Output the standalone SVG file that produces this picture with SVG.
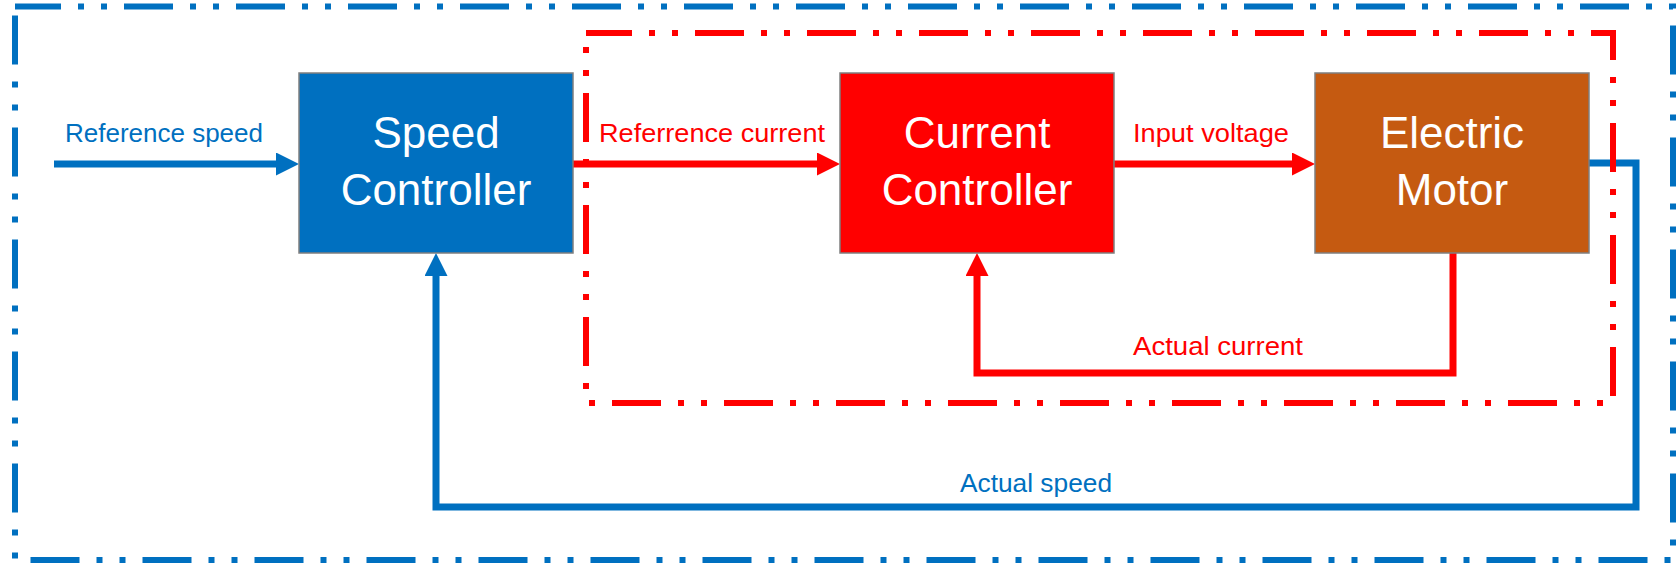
<svg xmlns="http://www.w3.org/2000/svg" width="1677" height="565" viewBox="0 0 1677 565">
  <style>
    .box { stroke: #7F7F7F; stroke-width: 1.5; }
    .btxt { font-family: "Liberation Sans", Arial, sans-serif; font-size: 44px; fill: #FFFFFF; text-anchor: middle; }
    .lbl { font-family: "Liberation Sans", Arial, sans-serif; font-size: 26px; }
    .blue { fill: #0070C0; }
    .red { fill: #FF0000; }
    .conn { fill: none; stroke-width: 7; stroke-linejoin: miter; stroke-linecap: butt; }
    .frame { fill: none; stroke-width: 6; stroke-dasharray: 49 17 6 17 6 17; }
  </style>
  <defs>
    <marker id="ahBlue" viewBox="0 0 23 23" refX="9" refY="11.5" markerWidth="23" markerHeight="23" markerUnits="userSpaceOnUse" orient="auto">
      <path d="M0,0 L23,11.5 L0,23 z" fill="#0070C0"/>
    </marker>
    <marker id="ahRed" viewBox="0 0 23 23" refX="9" refY="11.5" markerWidth="23" markerHeight="23" markerUnits="userSpaceOnUse" orient="auto">
      <path d="M0,0 L23,11.5 L0,23 z" fill="#FF0000"/>
    </marker>
  </defs>
  <rect width="1677" height="565" fill="#FFFFFF"/>

  <g id="connectors">
    <path class="conn" stroke="#0070C0" d="M54,164 H285" marker-end="url(#ahBlue)"/>
    <path class="conn" stroke="#FF0000" d="M573,164 H826" marker-end="url(#ahRed)"/>
    <path class="conn" stroke="#FF0000" d="M1114,164 H1301" marker-end="url(#ahRed)"/>
    <path class="conn" stroke="#FF0000" d="M1453,253 V373 H977 V267" marker-end="url(#ahRed)"/>
    <path class="conn" stroke="#0070C0" d="M1589,163 H1636 V507 H436 V267" marker-end="url(#ahBlue)"/>
    <text class="lbl blue" x="65" y="142" textLength="198" lengthAdjust="spacingAndGlyphs">Reference speed</text>
    <text class="lbl red" x="599" y="142" textLength="226" lengthAdjust="spacingAndGlyphs">Referrence current</text>
    <text class="lbl red" x="1133" y="142" textLength="156" lengthAdjust="spacingAndGlyphs">Input voltage</text>
    <text class="lbl red" x="1133" y="355" textLength="170" lengthAdjust="spacingAndGlyphs">Actual current</text>
    <text class="lbl blue" x="960" y="492" textLength="152" lengthAdjust="spacingAndGlyphs">Actual speed</text>
  </g>

  <g id="frames">
    <rect id="outer-loop" class="frame" stroke="#0070C0" stroke-dashoffset="3" x="15" y="6.5" width="1658" height="553.5"/>
    <rect id="inner-loop" class="frame" stroke="#FF0000" stroke-dashoffset="3" x="586" y="33" width="1027" height="370"/>
  </g>

  <g id="speed-controller">
    <rect class="box" x="299" y="73" width="274" height="180" fill="#0070C0"/>
    <text class="btxt" x="436" y="148">Speed</text>
    <text class="btxt" x="436" y="205">Controller</text>
  </g>
  <g id="current-controller">
    <rect class="box" x="840" y="73" width="274" height="180" fill="#FF0000"/>
    <text class="btxt" x="977" y="148">Current</text>
    <text class="btxt" x="977" y="205">Controller</text>
  </g>
  <g id="electric-motor">
    <rect class="box" x="1315" y="73" width="274" height="180" fill="#C55A11"/>
    <text class="btxt" x="1452" y="148">Electric</text>
    <text class="btxt" x="1452" y="205">Motor</text>
  </g>
</svg>
